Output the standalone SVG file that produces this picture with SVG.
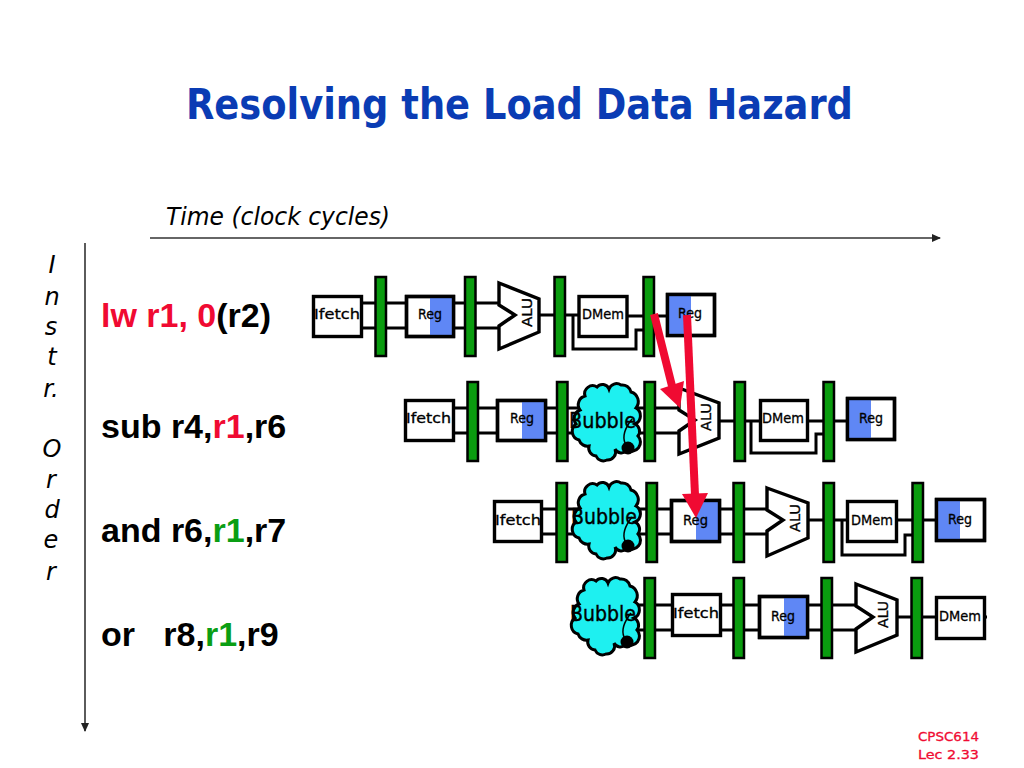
<svg xmlns="http://www.w3.org/2000/svg" width="1024" height="768" viewBox="0 0 1024 768">
<style>
.bg{fill:#fff}
.bar{fill:#0a9c0f;stroke:#000;stroke-width:2.5}
.box{fill:#fff;stroke:#000;stroke-width:3.4}
.blue{fill:#5f87f5}
.frame{fill:none;stroke:#000;stroke-width:3.4}
.alu{fill:#fff;stroke:#000;stroke-width:3.4;stroke-linejoin:miter}
.w{fill:none;stroke:#000;stroke-width:3}
.axis{fill:none;stroke:#333;stroke-width:1.6}
.lab{font-family:"DejaVu Sans",sans-serif;font-size:14px;fill:#000;stroke:#000;stroke-width:.3}
.bub{font-family:"DejaVu Sans",sans-serif;font-size:21px;fill:#000;stroke:#000;stroke-width:.4}
.ins{font-family:"Liberation Sans",Arial,sans-serif;font-weight:bold;font-size:34px;fill:#000;white-space:pre}
.it{font-family:"DejaVu Sans",sans-serif;font-style:italic;font-size:24px;fill:#000;text-anchor:middle}
.red{fill:#f00a32}.grn{fill:#0a9e14}
.hz{fill:none;stroke:#f00a32;stroke-width:8}
</style>
<defs>
<marker id="tip" markerWidth="10" markerHeight="10" refX="8" refY="4" orient="auto" markerUnits="userSpaceOnUse"><path d="M0 0L9 4L0 8Z" fill="#222"/></marker>
<g id="cloud">
<path d="M-22-26A8 8 0 0 1-10-35A7 7 0 0 1 2-33A8 8 0 0 1 14-37A9 9 0 0 1 24-30A10 10 0 0 1 29-14A9 9 0 0 1 28 2A8 8 0 0 1 31 14A9 9 0 0 1 20 28A7 7 0 0 1 8 27A8 8 0 0 1 0 38A8 8 0 0 1-11 34A8 8 0 0 1-18 24A9 9 0 0 1-28 18A9 9 0 0 1-31 2A9 9 0 0 1-27-12A9 9 0 0 1-22-26Z" fill="#1ef0f0" stroke="#000" stroke-width="3"/>
<path d="M18 21Q14 11 25-3" fill="none" stroke="#000" stroke-width="1.5"/>
<circle cx="21" cy="26" r="6.5" fill="#000"/>
</g>
</defs>
<rect class="bg" width="1024" height="768"/>
<text x="186" y="119" textLength="667" lengthAdjust="spacingAndGlyphs" font-family="'DejaVu Sans',sans-serif" font-weight="bold" font-size="42" fill="#0a3cb4">Resolving the Load Data Hazard</text>
<text x="166" y="225" textLength="224" lengthAdjust="spacingAndGlyphs" font-family="'DejaVu Sans',sans-serif" font-style="italic" font-size="24" fill="#000">Time (clock cycles)</text>
<g id="axes">
<path class="axis" d="M150 238H940" marker-end="url(#tip)"/>
<path class="axis" d="M85 243V731" marker-end="url(#tip)"/>
</g>
<g id="order-label">
<text class="it" x="52" y="273">I</text><text class="it" x="52" y="305">n</text><text class="it" x="51" y="335">s</text><text class="it" x="52" y="365">t</text><text class="it" x="51" y="397">r.</text>
<text class="it" x="52" y="457">O</text><text class="it" x="51" y="488">r</text><text class="it" x="52" y="518">d</text><text class="it" x="51" y="548">e</text><text class="it" x="51" y="580">r</text>
</g>
<g id="instructions">
<text class="ins" x="101" y="327"><tspan class="red">lw r1, 0</tspan>(r2)</text>
<text class="ins" x="101" y="438">sub r4,<tspan class="red">r1</tspan>,r6</text>
<text class="ins" x="101" y="542">and r6,<tspan class="grn">r1</tspan>,r7</text>
<text class="ins" x="101" y="646">or   r8,<tspan class="grn">r1</tspan>,r9</text>
</g>
<g id="connectors">
<path class="w" d="M362 303H406M362 328H406M454 303H499M454 328H499M539 315H579M627 316H667M573 316V349H636V330H643"/>
<path class="w" d="M453 408H497M453 433H497M546 408H681M546 433H681M719 421H761M808 421H847M751 421V453H816V434H823"/>
<path class="w" d="M542 509H671M542 534H671M720 509H767M720 534H767M808 520H847M897 520H936M842 520V555H905V535H912"/>
<path class="w" d="M630 605H672M630 630H672M721 605H759M721 630H759M808 605H856M808 630H856M897 617H936M985 617H987"/>
</g>
<g id="row1">
<g id="r1-ifetch"><rect class="box" x="313.500" y="296.500" width="48" height="40"/><text class="lab" x="314" y="319" textLength="46" lengthAdjust="spacingAndGlyphs">Ifetch</text></g>
<g id="r1-reg"><rect class="box" x="406.500" y="296.500" width="47" height="40"/><rect class="blue" x="430" y="298" width="22.500" height="37"/><rect class="frame" x="406.500" y="296.500" width="47" height="40"/><text class="lab" x="418" y="319" textLength="24" lengthAdjust="spacingAndGlyphs">Reg</text></g>
<g id="r1-alu"><path class="alu" d="M499 283L539 299V332L499 349V326L515 315L499 305Z"/><text class="lab" transform="translate(532 327) rotate(-90)" textLength="29" lengthAdjust="spacingAndGlyphs">ALU</text></g>
<g id="r1-dmem"><rect class="box" x="579" y="296.500" width="48" height="40"/><text class="lab" x="582" y="319" textLength="42" lengthAdjust="spacingAndGlyphs">DMem</text></g>
<g id="r1-wb"><rect class="box" x="667.500" y="294.500" width="47" height="41"/><rect class="blue" x="669" y="296" width="22" height="38"/><rect class="frame" x="667.500" y="294.500" width="47" height="41"/><text class="lab" x="678" y="318" textLength="24" lengthAdjust="spacingAndGlyphs">Reg</text></g>
<g id="r1-bars"><rect class="bar" x="375.500" y="277" width="10.500" height="79"/><rect class="bar" x="465" y="277" width="10.500" height="79"/><rect class="bar" x="554.500" y="277" width="10.500" height="79"/><rect class="bar" x="643.500" y="277" width="10.500" height="79"/></g>
</g>
<g id="row2">
<g id="r2-ifetch"><rect class="box" x="405.500" y="400.500" width="48" height="40"/><text class="lab" x="406" y="423" textLength="45" lengthAdjust="spacingAndGlyphs">Ifetch</text></g>
<g id="r2-reg"><rect class="box" x="497.500" y="400.500" width="48" height="40"/><rect class="blue" x="522" y="402" width="22" height="37"/><rect class="frame" x="497.500" y="400.500" width="48" height="40"/><text class="lab" x="510" y="423" textLength="24" lengthAdjust="spacingAndGlyphs">Reg</text></g>
<g id="r2-bubble"><use href="#cloud" x="607" y="422"/><text class="bub" x="569" y="428" textLength="67" lengthAdjust="spacingAndGlyphs">Bubble</text></g>
<g id="r2-alu"><path class="alu" d="M679 388L719 403V438L679 454V431L695 420L679 410Z"/><text class="lab" transform="translate(711 431) rotate(-90)" textLength="28" lengthAdjust="spacingAndGlyphs">ALU</text></g>
<g id="r2-dmem"><rect class="box" x="760.500" y="400.500" width="47" height="40"/><text class="lab" x="762" y="423" textLength="42" lengthAdjust="spacingAndGlyphs">DMem</text></g>
<g id="r2-wb"><rect class="box" x="847.500" y="398.500" width="47" height="41"/><rect class="blue" x="849" y="400" width="22" height="38"/><rect class="frame" x="847.500" y="398.500" width="47" height="41"/><text class="lab" x="859" y="423" textLength="24" lengthAdjust="spacingAndGlyphs">Reg</text></g>
<g id="r2-bars"><rect class="bar" x="467.500" y="382" width="10.500" height="79"/><rect class="bar" x="557" y="382" width="10.500" height="79"/><rect class="bar" x="644.500" y="382" width="10.500" height="79"/><rect class="bar" x="734.500" y="382" width="10.500" height="79"/><rect class="bar" x="823.500" y="382" width="10.500" height="79"/></g>
</g>
<g id="row3">
<g id="r3-ifetch"><rect class="box" x="494.500" y="501.500" width="47" height="40"/><text class="lab" x="495" y="525" textLength="46" lengthAdjust="spacingAndGlyphs">Ifetch</text></g>
<g id="r3-bubble"><use href="#cloud" x="607" y="520"/><text class="bub" x="571" y="524" textLength="66" lengthAdjust="spacingAndGlyphs">Bubble</text></g>
<g id="r3-reg"><rect class="box" x="671.500" y="500.500" width="48" height="41"/><rect class="blue" x="696" y="502" width="22.500" height="38"/><rect class="frame" x="671.500" y="500.500" width="48" height="41"/><text class="lab" x="683" y="525" textLength="25" lengthAdjust="spacingAndGlyphs">Reg</text></g>
<g id="r3-alu"><path class="alu" d="M767 488L808 503V538L767 556V531L783 520L767 510Z"/><text class="lab" transform="translate(800 532) rotate(-90)" textLength="28" lengthAdjust="spacingAndGlyphs">ALU</text></g>
<g id="r3-dmem"><rect class="box" x="847.500" y="501.500" width="49" height="40"/><text class="lab" x="851" y="525" textLength="42" lengthAdjust="spacingAndGlyphs">DMem</text></g>
<g id="r3-wb"><rect class="box" x="936.500" y="499.500" width="48" height="41"/><rect class="blue" x="938" y="501" width="22" height="38"/><rect class="frame" x="936.500" y="499.500" width="48" height="41"/><text class="lab" x="948" y="524" textLength="24" lengthAdjust="spacingAndGlyphs">Reg</text></g>
<g id="r3-bars"><rect class="bar" x="556.500" y="483" width="10.500" height="79"/><rect class="bar" x="646.500" y="483" width="10.500" height="79"/><rect class="bar" x="733.500" y="483" width="10.500" height="79"/><rect class="bar" x="823.500" y="483" width="10.500" height="79"/><rect class="bar" x="912.500" y="483" width="10.500" height="79"/></g>
</g>
<g id="row4">
<g id="r4-bubble"><use href="#cloud" x="606" y="616"/><text class="bub" x="570" y="621" textLength="66" lengthAdjust="spacingAndGlyphs">Bubble</text></g>
<g id="r4-ifetch"><rect class="box" x="672.500" y="594.500" width="48" height="41"/><text class="lab" x="673" y="618" textLength="46" lengthAdjust="spacingAndGlyphs">Ifetch</text></g>
<g id="r4-reg"><rect class="box" x="759.500" y="596.500" width="48" height="41"/><rect class="blue" x="784" y="598" width="22" height="38"/><rect class="frame" x="759.500" y="596.500" width="48" height="41"/><text class="lab" x="771" y="621" textLength="24" lengthAdjust="spacingAndGlyphs">Reg</text></g>
<g id="r4-alu"><path class="alu" d="M856 584L897 600V635L856 652V629L873 617L856 606Z"/><text class="lab" transform="translate(888 628) rotate(-90)" textLength="27" lengthAdjust="spacingAndGlyphs">ALU</text></g>
<g id="r4-dmem"><rect class="box" x="936.500" y="597.500" width="48" height="41"/><text class="lab" x="939" y="621" textLength="42" lengthAdjust="spacingAndGlyphs">DMem</text></g>
<g id="r4-bars"><rect class="bar" x="644.500" y="578" width="10.500" height="80"/><rect class="bar" x="733.500" y="578" width="10.500" height="80"/><rect class="bar" x="821.500" y="578" width="10.500" height="80"/><rect class="bar" x="911.500" y="578" width="10.500" height="80"/></g>
</g>
<g id="hazard-arrows">
<path class="hz" d="M654 314L672 386"/>
<path d="M680 408L660 389L684 381Z" fill="#f00a32"/>
<path class="hz" d="M687 315L695 495"/>
<path d="M696 518L682 494L708 493Z" fill="#f00a32"/>
</g>
<g id="footer" font-family="'DejaVu Sans',sans-serif" font-size="13" fill="#f00a32" stroke="#f00a32" stroke-width=".3">
<text x="918" y="741" textLength="61" lengthAdjust="spacingAndGlyphs">CPSC614</text>
<text x="918" y="759" textLength="61" lengthAdjust="spacingAndGlyphs">Lec 2.33</text>
</g>
</svg>
